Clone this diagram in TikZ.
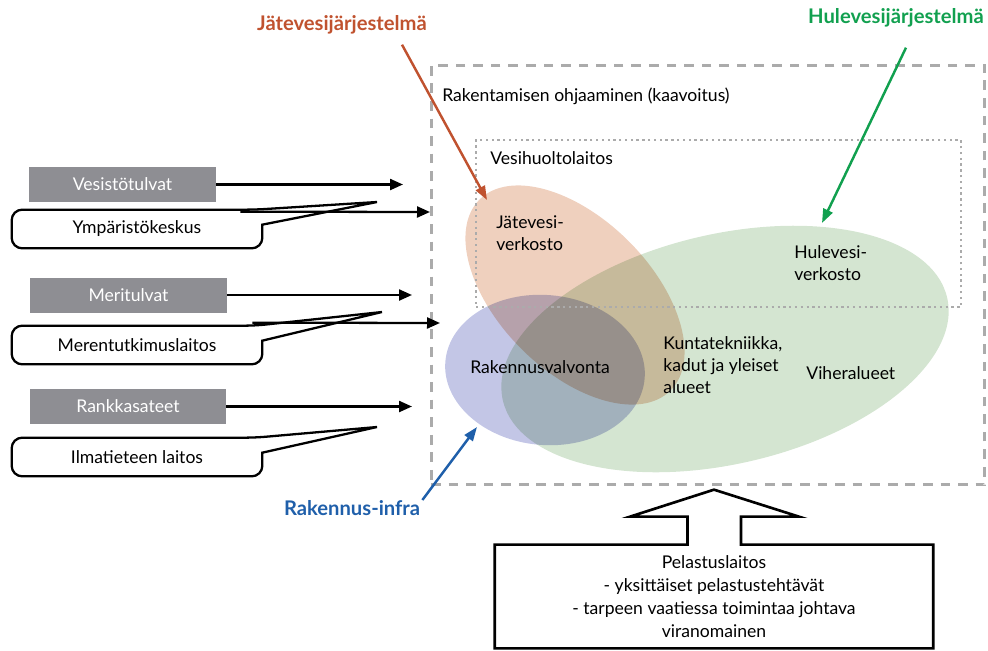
\documentclass[tikz,border=0pt]{standalone}
\usepackage{fontspec}
\setmainfont{Lato}
\usepackage{xcolor}
\usepackage{tikz}
\usetikzlibrary{arrows.meta, positioning}
\definecolor{boxgray}{HTML}{8E8E93}
\definecolor{framegray}{HTML}{ABABAB}
\definecolor{jatered}{HTML}{C0522F}
\definecolor{hulegreen}{HTML}{11A04F}
\definecolor{infrablue}{HTML}{1F5FAA}
\definecolor{softorange}{HTML}{EFD0BE}
\definecolor{softgreen}{HTML}{D4E5D1}
\definecolor{softlilac}{HTML}{C3C6E6}

\begin{document}
\begin{tikzpicture}[
x=0.02cm, y=-0.02cm,
every node/.style={font=\fontsize{10}{12.5}\selectfont, inner sep=0pt},
arrow/.style={-{Triangle[length=2.6mm,width=2.2mm]}, line width=1.3pt},
pointer/.style={-{Triangle[length=2.8mm,width=2mm]}, line width=1.4pt}
]

% Define styles
\tikzstyle{flood} = [rectangle, fill=boxgray, text=white, minimum height=0.7cm]
\tikzstyle{agency} = [rectangle, minimum width=5cm, minimum height=0.76cm]
\tikzstyle{callout} = [line width=1.3pt, rounded corners=6pt]
\tikzstyle{area} = [blend mode=multiply]
\tikzstyle{tag} = [align=left, anchor=west]
\tikzstyle{system} = [font=\bfseries\fontsize{11.5}{13}\selectfont]

\useasboundingbox (0,0) rectangle (988,650);

% Areas
\fill[area, softgreen, rotate around={13:(725,349)}] (725,349) ellipse [x radius=228, y radius=115];
\fill[area, softorange, rotate around={-45:(575,295)}] (575,295) ellipse [x radius=135, y radius=76];
\fill[area, softlilac, rotate around={-5:(545,370)}] (545,370) ellipse [x radius=100, y radius=75];

% Frames
\node (plan) [draw=framegray, line width=1.7pt, dash pattern=on 5.5pt off 4.5pt, minimum width=11.08cm, minimum height=8.4cm] at (708,275) {};
\node (vesihuolto) [draw=framegray, line width=1.3pt, dotted, minimum width=9.7cm, minimum height=3.34cm] at (718.5,223.5) {};

% Nodes
\node (plantext) [tag] at (442,96) {Rakentamisen ohjaaminen (kaavoitus)};
\node (vesitext) [tag] at (490,158) {Vesihuoltolaitos};
\node (jate) [tag] at (496,233) {Jätevesi-\\verkosto};
\node (hule) [tag] at (794,263) {Hulevesi-\\verkosto};
\node (rava) [tag] at (470,367) {Rakennusvalvonta};
\node (kunta) [tag] at (663,365) {Kuntatekniikka,\\kadut ja yleiset\\alueet};
\node (viher) [tag] at (806,373) {Viheralueet};

\node (vesisto) [flood, minimum width=3.74cm] at (122.5,184.5) {Vesistötulvat};
\node (meri) [flood, minimum width=3.94cm] at (128.5,295) {Meritulvat};
\node (rankka) [flood, minimum width=3.92cm] at (128,406.5) {Rankkasateet};

\node (ymparisto) [agency] at (137,229) {Ympäristökeskus};
\node (merentutk) [agency] at (137,345) {Merentutkimuslaitos};
\node (ilmatiede) [agency] at (137,457) {Ilmatieteen laitos};

\node (jatesys) [system, text=jatered] at (342,25) {Jätevesijärjestelmä};
\node (hulesys) [system, text=hulegreen] at (896,18) {Hulevesijärjestelmä};
\node (infra) [system, text=infrablue] at (352,508) {Rakennus-infra};

\node (pelastus) [rectangle, minimum width=8.76cm, minimum height=2.06cm, align=center, font=\fontsize{10}{13}\selectfont] at (714,596.5) {Pelastuslaitos\\- yksittäiset pelastustehtävät\\- tarpeen vaatiessa toimintaa johtava\\viranomainen};

% Callouts
\coordinate (ymptip) at (377,202);
\coordinate (mertip) at (382,312);
\coordinate (ilmtip) at (377,427);
\draw[callout] (ymparisto.north west) -- ([shift={(-7,0)}]ymparisto.north east) [sharp corners] -- (ymptip) -- ([shift={(0,15)}]ymparisto.north east) [rounded corners=6pt] -- (ymparisto.south east) -- (ymparisto.south west) -- cycle;
\draw[callout] (merentutk.north west) -- ([shift={(-7,0)}]merentutk.north east) [sharp corners] -- (mertip) -- ([shift={(0,15)}]merentutk.north east) [rounded corners=6pt] -- (merentutk.south east) -- (merentutk.south west) -- cycle;
\draw[callout] (ilmatiede.north west) -- ([shift={(-7,0)}]ilmatiede.north east) [sharp corners] -- (ilmtip) -- ([shift={(0,15)}]ilmatiede.north east) [rounded corners=6pt] -- (ilmatiede.south east) -- (ilmatiede.south west) -- cycle;

% Block arrow
\draw[line width=1.5pt] (pelastus.north west) -- ([shift={(-26.5,0)}]pelastus.north) -- ([shift={(-26.5,-28)}]pelastus.north) -- ([shift={(-84,-28)}]pelastus.north) -- ([shift={(0,-55)}]pelastus.north) -- ([shift={(85,-28)}]pelastus.north) -- ([shift={(27,-28)}]pelastus.north) -- ([shift={(27,0)}]pelastus.north) -- (pelastus.north east) -- (pelastus.south east) -- (pelastus.south west) -- cycle;

% Arrows
\coordinate (vesisto end) at (403,184.5);
\coordinate (ymparisto end) at (430,212);
\coordinate (meri end) at (412,295);
\coordinate (merentutk end) at (440,323);
\coordinate (rankka end) at (412,406.5);
\draw [arrow] (vesisto) -- (vesisto end);
\draw [arrow] ([shift={(-22,2)}]ymparisto.north east) -- (ymparisto end);
\draw [arrow] (meri) -- (meri end);
\draw [arrow] ([shift={(-10,-3)}]merentutk.north east) -- (merentutk end);
\draw [arrow] (rankka) -- (rankka end);

\coordinate (jatetip) at (487,200);
\coordinate (huletip) at (822,223);
\coordinate (infratip) at (477,427);
\draw [pointer, jatered] ([shift={(60,10)}]jatesys.south) -- (jatetip);
\draw [pointer, hulegreen] ([shift={(10,20)}]hulesys.south) -- (huletip);
\draw [pointer, infrablue] ([shift={(2,-8)}]infra.east) -- (infratip);

\end{tikzpicture}
\end{document}
